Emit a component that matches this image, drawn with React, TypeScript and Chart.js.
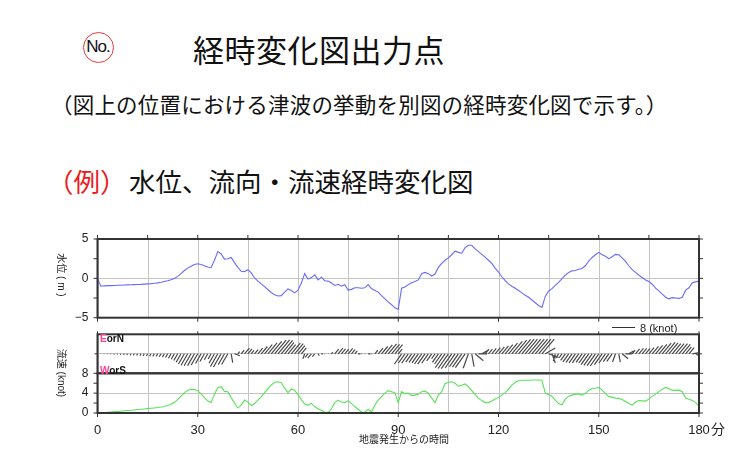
import React, { useEffect, useRef } from "react";
import { Chart, registerables } from "chart.js";

Chart.register(...registerables);

// ---------------- data (1-minute samples, 0..180 min) ----------------
const STEP_MIN = 1;

const WATER_LEVEL_M = [
  0, -1.0, -0.95, -0.93, -0.92, -0.9, -0.88, -0.87, -0.85, -0.83,
  -0.82, -0.8, -0.78, -0.76, -0.73, -0.7, -0.67, -0.63, -0.58, -0.5,
  -0.4, -0.3, -0.18, -0.02, 0.25, 0.6, 1.0, 1.3, 1.55, 1.75,
  1.85, 1.75, 1.6, 1.45, 1.35, 2.3, 3.4, 3.1, 2.45, 2.5,
  2.65, 2.0, 1.4, 0.9, 0.85, 1.1, 0.7, 0.05, -0.35, -0.7,
  -1.05, -1.45, -1.8, -2.1, -2.25, -2.2, -1.75, -1.35, -1.55, -1.85,
  -1.5, -0.6, 0.6, -0.1, 0.1, 0.45, -0.2, 0.15, -0.3, -0.35,
  -0.6, -0.9, -0.75, -1.0, -0.8, -1.5, -1.4, -1.2, -1.2, -1.25,
  -1.2, -0.8, -1.3, -1.55, -1.75, -2.2, -2.6, -3.0, -3.35, -3.75,
  -3.95, -1.25, -1.1, -0.8, -0.55, -0.4, -0.2, 0.6, 0.75, 0.6,
  0.3, 0.55, 1.4, 1.9, 2.3, 2.6, 3.0, 3.45, 3.3, 3.2,
  3.9, 4.2, 4.2, 3.75, 3.4, 3.05, 2.7, 2.3, 1.9, 1.3,
  0.8, 0.2, -0.3, -0.7, -1.0, -1.25, -1.55, -1.85, -2.15, -2.4,
  -2.75, -3.1, -3.45, -3.7, -2.3, -1.6, -1.3, -0.9, -0.5, -0.05,
  0.4, 0.75, 0.95, 1.0, 1.15, 1.25, 1.6, 2.2, 2.65, 3.0,
  3.3, 3.0, 2.8, 2.5, 2.75, 3.05, 3.0, 2.6, 2.15, 1.6,
  1.1, 0.75, 0.4, 0.1, -0.2, -0.4, -0.75, -1.25, -1.6, -2.0,
  -2.4, -2.6, -2.45, -2.5, -2.55, -2.4, -1.5, -1.2, -0.55, -0.45,
  -0.35,
];

const SPEED_KNOT = [
  0, 0.05, 0.1, 0.15, 0.2, 0.25, 0.3, 0.35, 0.45, 0.5,
  0.55, 0.62, 0.7, 0.75, 0.82, 0.88, 0.95, 1.02, 1.1, 1.2,
  1.32, 1.5, 1.75, 2.15, 2.7, 3.4, 4.1, 4.6, 4.78, 4.72,
  4.5, 3.85, 3.1, 2.4, 2.1, 3.8, 5.1, 5.3, 4.35, 4.3,
  3.1, 2.0, 1.0, 1.6, 2.6, 2.2, 1.5, 1.9, 2.6, 3.3,
  4.1, 4.9, 5.6, 6.2, 6.3, 6.1, 5.0, 4.1, 4.8, 4.6,
  3.7, 2.7, 1.8, 1.6, 1.95, 1.3, 0.8, 0.55, 0.15, 0.12,
  0.8, 2.1, 2.6, 2.2, 2.1, 2.45, 1.9, 1.3, 0.75, 0.2,
  0.15, 0.75, 0.2, 1.6, 2.6, 3.3, 4.0, 4.5, 4.3, 4.1,
  2.1, 4.3, 3.9, 4.0, 3.5, 3.6, 3.8, 4.3, 4.4, 4.0,
  3.0, 2.1, 3.6, 4.3, 5.9, 6.2, 6.3, 6.0, 5.4, 5.6,
  5.85, 5.3, 4.5, 3.7, 3.0, 2.5, 2.1, 2.1, 2.4, 2.8,
  3.15, 3.6, 4.1, 4.8, 5.6, 6.2, 6.5, 6.6, 6.6, 6.6,
  6.65, 6.65, 6.65, 6.6, 4.0, 3.7, 3.4, 2.6, 1.9, 1.65,
  2.8, 3.4, 3.6, 3.8, 3.85, 3.6, 3.9, 4.6, 4.9, 5.0,
  5.15, 4.6, 3.9, 3.3, 3.2, 3.0, 2.95, 2.7, 2.3, 1.9,
  1.6, 2.2, 2.5, 2.45, 2.4, 2.8, 3.4, 3.8, 4.3, 4.8,
  5.15, 4.9, 4.6, 4.55, 4.6, 4.3, 3.0, 2.75, 2.5, 2.1,
  1.4,
];

// flow direction (degrees clockwise from north, direction the current flows toward)
const DIRECTION_DEG = [
  210, 210, 210, 210, 210, 210, 210, 210, 210, 210,
  210, 210, 210, 210, 210, 210, 210, 210, 210, 210,
  210, 210, 210, 210, 210, 210, 210, 210, 210, 210,
  210, 210, 210, 210, 210, 210, 210, 210, 210, 210,
  170, 110, 40, 40, 40, 40, 40, 40, 40, 40,
  40, 40, 40, 40, 40, 40, 40, 40, 40, 40,
  40, 40, 200, 220, 220, 220, 150, 90, 90, 60,
  40, 40, 40, 40, 40, 40, 40, 40, 90, 90,
  90, 90, 90, 40, 40, 40, 40, 40, 40, 40,
  40, 215, 215, 215, 215, 215, 215, 215, 215, 215,
  215, 215, 215, 215, 215, 215, 215, 215, 215, 215,
  215, 200, 170, 130, 90, 60, 40, 40, 40, 40,
  40, 40, 40, 40, 40, 40, 40, 40, 40, 40,
  40, 40, 40, 40, 60, 110, 160, 195, 215, 215,
  215, 215, 215, 215, 215, 215, 215, 215, 215, 215,
  215, 215, 215, 215, 215, 200, 170, 130, 90, 60,
  40, 40, 40, 40, 40, 40, 40, 40, 40, 40,
  40, 40, 40, 40, 40, 40, 40, 40, 80, 120,
  150,
];

const TIME_TICKS = [0, 30, 60, 90, 120, 150, 180];
const TIME_MINOR_TICKS = [0, 15, 30, 45, 60, 75, 90, 105, 120, 135, 150, 165, 180];
const LEVEL_TICK_LABELS = [5, 0, -5];
const LEVEL_MARKS = [-5, -2.5, 0, 2.5, 5];
const SPEED_TICK_LABELS = [0, 4, 8];
const SPEED_MARKS = [0, 2, 4, 6, 8];
const STICK_MARKS = [0];
const STICK_LEGEND_KNOT = 8;
const STICK_RANGE_KNOT = 6.75;

// ---------------- style / layout ----------------
const SANS = "'Liberation Sans', Arial, sans-serif";
const CJK = "'Noto Sans CJK JP', sans-serif";
const MIXED = "'Liberation Sans', 'Noto Sans CJK JP', sans-serif";
const W = 736;
const PLOT_LEFT = 97.5;
const PLOT_RIGHT = 699;
const GRID = "#c4c4c4";
const AXIS = "#333";

type Marks = { left?: number[]; right?: number[]; top?: number[]; bottom?: number[]; len?: number };

function framePlugin(marks: Marks) {
  return {
    id: "frame",
    beforeDatasetsDraw(chart: any) {
      const { ctx, chartArea } = chart;
      const { top, bottom } = chartArea;
      const xs = chart.scales.x;
      ctx.save();
      ctx.strokeStyle = GRID;
      ctx.lineWidth = 1;
      ctx.beginPath();
      TIME_MINOR_TICKS.forEach((v) => {
        const x = Math.round(xs.getPixelForValue(v)) + 0.5;
        ctx.moveTo(x, top);
        ctx.lineTo(x, bottom);
      });
      ctx.stroke();
      ctx.restore();
    },
    afterDraw(chart: any) {
      const { ctx, chartArea } = chart;
      const { left, top, right, bottom } = chartArea;
      const xs = chart.scales.x;
      const ys = chart.scales.y;
      const len = marks.len ?? 4;
      ctx.save();
      ctx.strokeStyle = AXIS;
      ctx.lineWidth = 1;
      ctx.beginPath();
      (marks.left || []).forEach((v) => {
        const y = ys.getPixelForValue(v);
        ctx.moveTo(left - len, y);
        ctx.lineTo(left, y);
      });
      (marks.right || []).forEach((v) => {
        const y = ys.getPixelForValue(v);
        ctx.moveTo(right, y);
        ctx.lineTo(right + len, y);
      });
      (marks.top || []).forEach((v) => {
        const x = xs.getPixelForValue(v);
        ctx.moveTo(x, top - len);
        ctx.lineTo(x, top);
      });
      (marks.bottom || []).forEach((v) => {
        const x = xs.getPixelForValue(v);
        ctx.moveTo(x, bottom);
        ctx.lineTo(x, bottom + len);
      });
      ctx.stroke();
      ctx.lineWidth = 2;
      ctx.strokeRect(left, top, right - left, bottom - top);
      ctx.restore();
    },
  };
}

const stickPlugin = {
  id: "sticks",
  afterDatasetsDraw(chart: any) {
    const xs = chart.scales.x;
    const ys = chart.scales.y;
    const ctx = chart.ctx;
    const { left, top, right, bottom } = chart.chartArea;
    const y0 = ys.getPixelForValue(0);
    const knotPx = y0 - ys.getPixelForValue(1);
    ctx.save();
    ctx.beginPath();
    ctx.rect(left, top, right - left, bottom - top);
    ctx.clip();
    ctx.beginPath();
    ctx.strokeStyle = "#484848";
    ctx.lineWidth = 1.2;
    SPEED_KNOT.forEach((s, i) => {
      const a = (DIRECTION_DEG[i] * Math.PI) / 180;
      const u = s * Math.sin(a);
      const v = s * Math.cos(a);
      const x0 = xs.getPixelForValue(i * STEP_MIN);
      ctx.moveTo(x0, y0);
      ctx.lineTo(x0 + u * knotPx, ys.getPixelForValue(v));
    });
    ctx.stroke();
    ctx.restore();
    // legend scale bar (8 knot)
    ctx.save();
    ctx.strokeStyle = "#333";
    ctx.lineWidth = 1;
    ctx.beginPath();
    const lx = 612;
    const ly = Math.round(top - 7) + 0.5;
    ctx.moveTo(lx, ly);
    ctx.lineTo(lx + STICK_LEGEND_KNOT * knotPx, ly);
    ctx.stroke();
    ctx.restore();
  },
};

const fmtNum = (v: number) => (v < 0 ? "\u2212" + Math.abs(v) : String(v));

function timeAxis(showLabels: boolean, height: number) {
  return {
    type: "linear",
    position: "bottom",
    min: 0,
    max: 180,
    ticks: {
      stepSize: 15,
      display: showLabels,
      autoSkip: false,
      maxRotation: 0,
      padding: 10,
      color: "#222",
      font: { family: SANS, size: 13 },
      callback: (v: number) => (TIME_TICKS.includes(v) ? String(v) : ""),
    },
    grid: { display: false, drawTicks: false },
    border: { display: false },
    afterFit: (s: any) => {
      s.height = height;
    },
  };
}

function valueAxis(min: number, max: number, step: number, labels: number[] | null, gridFn: (v: number) => boolean) {
  return {
    type: "linear",
    position: "left",
    min,
    max,
    ticks: {
      stepSize: step,
      display: !!labels,
      padding: 9,
      color: "#222",
      font: { family: SANS, size: 12 },
      callback: (v: number) => (labels && labels.includes(v) ? fmtNum(v) : ""),
    },
    grid: {
      display: true,
      drawOnChartArea: true,
      drawTicks: false,
      color: (c: any) => (c.tick && gridFn(c.tick.value) ? GRID : "transparent"),
      lineWidth: 1,
    },
    border: { display: false },
    afterFit: (s: any) => {
      s.width = PLOT_LEFT;
    },
  };
}

const seriesPoints = (arr: number[]) => arr.map((y, i) => ({ x: i * STEP_MIN, y }));

function ChartCanvas({ top, height, config }: { top: number; height: number; config: () => any }) {
  const ref = useRef<HTMLCanvasElement | null>(null);
  useEffect(() => {
    if (!ref.current) return;
    const chart = new Chart(ref.current, config());
    return () => chart.destroy();
  }, []);
  return (
    <div style={{ position: "absolute", left: 0, top, width: W, height }}>
      <canvas ref={ref} width={W} height={height} style={{ width: W, height, display: "block" }} />
    </div>
  );
}

const baseOptions = {
  responsive: false,
  animation: false,
  events: [],
  plugins: { legend: { display: false }, tooltip: { enabled: false } },
};

// panel geometry: plot areas 239–317.7, 334.3–373.3, 373.3–413
const WATER_TOP = 222;
const WATER_H = 114;
const STICK_TOP = 318;
const STICK_H = 60;
const SPEED_TOP = 356;
const SPEED_H = 99;

const waterConfig = () => ({
  type: "line",
  data: {
    datasets: [
      {
        data: seriesPoints(WATER_LEVEL_M),
        borderColor: "#6a6aff",
        borderWidth: 1.1,
        pointRadius: 0,
        tension: 0,
      },
    ],
  },
  options: {
    ...baseOptions,
    layout: { padding: { left: 0, right: W - PLOT_RIGHT, top: 239 - WATER_TOP, bottom: WATER_TOP + WATER_H - 317.7 } },
    scales: {
      x: timeAxis(false, 0),
      y: valueAxis(-5, 5, 2.5, LEVEL_TICK_LABELS, (v) => v === 0),
    },
  },
  plugins: [framePlugin({ left: LEVEL_MARKS, right: LEVEL_MARKS, top: TIME_MINOR_TICKS, bottom: TIME_TICKS, len: 4 })],
});

const stickConfig = () => ({
  type: "line",
  data: { datasets: [] },
  options: {
    ...baseOptions,
    layout: { padding: { left: 0, right: W - PLOT_RIGHT, top: 334.3 - STICK_TOP, bottom: STICK_TOP + STICK_H - 373.3 } },
    scales: {
      x: timeAxis(false, 0),
      y: valueAxis(-STICK_RANGE_KNOT, STICK_RANGE_KNOT, STICK_RANGE_KNOT, null, (v) => v === 0),
    },
  },
  plugins: [stickPlugin, framePlugin({ left: STICK_MARKS, right: STICK_MARKS, top: TIME_TICKS, len: 3 })],
});

const speedConfig = () => ({
  type: "line",
  data: {
    datasets: [
      {
        data: seriesPoints(SPEED_KNOT),
        borderColor: "#58e258",
        borderWidth: 1.1,
        pointRadius: 0,
        tension: 0,
      },
    ],
  },
  options: {
    ...baseOptions,
    layout: { padding: { left: 0, right: W - PLOT_RIGHT, top: 373.3 - SPEED_TOP, bottom: 0 } },
    scales: {
      x: timeAxis(true, SPEED_TOP + SPEED_H - 413),
      y: valueAxis(0, 8, 2, SPEED_TICK_LABELS, (v) => v > 0 && v < 8),
    },
  },
  plugins: [framePlugin({ left: SPEED_MARKS, right: SPEED_MARKS, bottom: TIME_TICKS, len: 4 })],
});

function Txt({
  x,
  y,
  children,
  style,
  center,
}: {
  x: number;
  y: number;
  children: React.ReactNode;
  style?: React.CSSProperties;
  center?: boolean;
}) {
  return (
    <div
      style={{
        position: "absolute",
        left: x,
        top: y,
        whiteSpace: "nowrap",
        lineHeight: 1,
        color: "#111",
        transform: center ? "translate(-50%, -50%)" : "translate(0, -50%)",
        ...style,
      }}
    >
      {children}
    </div>
  );
}

export default function App() {
  return (
    <div
      style={{
        position: "absolute",
        left: 0,
        top: 0,
        width: W,
        height: 455,
        background: "#fff",
        overflow: "hidden",
      }}
    >
      {/* heading */}
      <div
        style={{
          position: "absolute",
          left: 82.5,
          top: 31.5,
          width: 31,
          height: 31,
          border: "1px solid #e63c3c",
          borderRadius: "50%",
          boxSizing: "border-box",
          display: "flex",
          alignItems: "center",
          justifyContent: "center",
          font: `17px ${SANS}`,
          letterSpacing: -1,
          color: "#111",
        }}
      >
        No.
      </div>
      <Txt x={193} y={48} style={{ font: `31px ${CJK}`, letterSpacing: 0.5 }}>
        経時変化図出力点
      </Txt>
      <Txt x={51} y={103} style={{ font: `21.5px ${CJK}`, letterSpacing: 0.2 }}>
        （図上の位置における津波の挙動を別図の経時変化図で示す。）
      </Txt>
      <Txt x={47} y={180} style={{ font: `26.5px ${CJK}`, color: "#ee1c1c" }}>
        （例）
      </Txt>
      <Txt x={129} y={180} style={{ font: `26.5px ${CJK}` }}>
        水位、流向・流速経時変化図
      </Txt>

      {/* charts */}
      <ChartCanvas top={WATER_TOP} height={WATER_H} config={waterConfig} />
      <ChartCanvas top={STICK_TOP} height={STICK_H} config={stickConfig} />
      <ChartCanvas top={SPEED_TOP} height={SPEED_H} config={speedConfig} />

      {/* axis titles and annotations */}
      <div
        style={{
          position: "absolute",
          left: 61.5,
          top: 275,
          transform: "translate(-50%, -50%) rotate(90deg)",
          whiteSpace: "nowrap",
          lineHeight: 1,
          font: `10px ${MIXED}`,
          color: "#222",
        }}
      >
        水位 ( m )
      </div>
      <div
        style={{
          position: "absolute",
          left: 61.5,
          top: 373,
          transform: "translate(-50%, -50%) rotate(90deg)",
          whiteSpace: "nowrap",
          lineHeight: 1,
          font: `10px ${MIXED}`,
          color: "#222",
        }}
      >
        流速 (knot)
      </div>
      <Txt x={100} y={338} style={{ font: `bold 10px ${SANS}` }}>
        <span style={{ color: "#ff3d96" }}>E</span>orN
      </Txt>
      <Txt x={100} y={369.5} style={{ font: `bold 10px ${SANS}` }}>
        <span style={{ color: "#ff3d96" }}>W</span>orS
      </Txt>
      <Txt x={640} y={327.5} style={{ font: `11px ${SANS}`, color: "#222" }}>
        8 (knot)
      </Txt>
      <Txt x={711} y={428} style={{ font: `14px ${CJK}`, color: "#222" }}>
        分
      </Txt>
      <Txt x={404} y={438} center style={{ font: `10px ${CJK}`, color: "#222" }}>
        地震発生からの時間
      </Txt>
    </div>
  );
}
